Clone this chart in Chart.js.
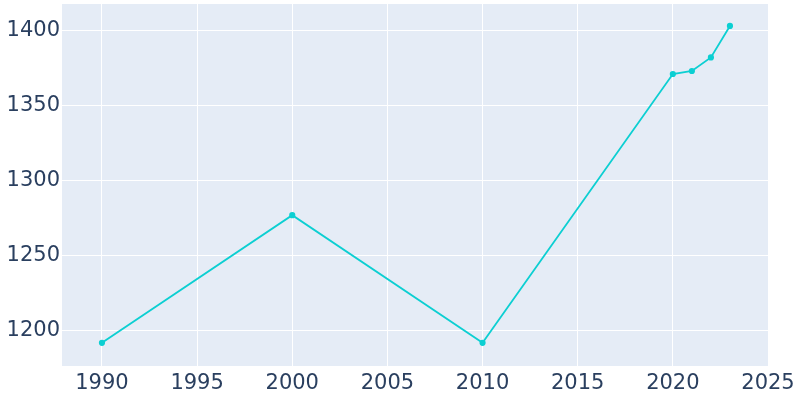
<!DOCTYPE html>
<html>
<head>
<meta charset="utf-8">
<script src="https://cdn.jsdelivr.net/npm/chart.js@4"></script>
<style>
  html, body { margin: 0; padding: 0; background: #fff; }
  #wrap { width: 800px; height: 400px; }
</style>
</head>
<body>
<div id="wrap"><canvas id="myChart" width="800" height="400"></canvas></div>
<script>
var years = [1990, 2000, 2010, 2020, 2021, 2022, 2023];
var population = [1192, 1277, 1192, 1371, 1373, 1382, 1403];
var xTicks = [1990, 1995, 2000, 2005, 2010, 2015, 2020, 2025];
var yTicks = [1200, 1250, 1300, 1350, 1400];

var lineColor = '#0ccfd2';
var fontColor = '#2a3f5f';

var points = [];
for (var i = 0; i < years.length; i++) {
    points.push({ x: years[i], y: population[i] });
}

// plot background, plotly style
var bgPlugin = {
    id: 'plotBg',
    beforeDraw: function (chart) {
        var a = chart.chartArea;
        var ctx = chart.ctx;
        ctx.save();
        ctx.fillStyle = '#e5ecf6';
        ctx.fillRect(a.left, a.top, a.right - a.left, a.bottom - a.top);
        ctx.restore();
    }
};

function plain(v) { return String(v); }

new Chart("myChart", {
    type: "line",
    data: {
        datasets: [{
            data: points,
            borderColor: lineColor,
            backgroundColor: lineColor,
            borderWidth: 1.8,
            pointRadius: 2.2,
            pointHoverRadius: 2.2,
            tension: 0
        }]
    },
    plugins: [bgPlugin],
    options: {
        responsive: false,
        animation: false,
        layout: { padding: { top: 4, right: 32, left: 0, bottom: 0 } },
        plugins: {
            legend: { display: false },
            tooltip: { enabled: false }
        },
        scales: {
            x: {
                type: 'linear',
                min: 1987.9,
                max: 2025,
                afterBuildTicks: function (scale) {
                    scale.ticks = xTicks.map(function (v) { return { value: v }; });
                },
                afterFit: function (scale) {
                    scale.height = 34;
                    scale.paddingLeft = 0;
                    scale.paddingRight = 0;
                },
                grid: { color: '#ffffff', lineWidth: 1, drawTicks: false },
                border: { display: false },
                ticks: {
                    color: fontColor,
                    font: { family: 'DejaVu Sans', size: 21 },
                    padding: 5,
                    maxRotation: 0,
                    autoSkip: false,
                    callback: plain
                }
            },
            y: {
                min: 1176.6,
                max: 1417.6,
                afterBuildTicks: function (scale) {
                    scale.ticks = yTicks.map(function (v) { return { value: v }; });
                },
                afterFit: function (scale) {
                    scale.width = 62;
                    scale.paddingTop = 0;
                    scale.paddingBottom = 0;
                },
                grid: { color: '#ffffff', lineWidth: 1, drawTicks: false },
                border: { display: false },
                ticks: {
                    color: fontColor,
                    font: { family: 'DejaVu Sans', size: 21 },
                    padding: 2,
                    callback: plain
                }
            }
        }
    }
});
</script>
</body>
</html>
